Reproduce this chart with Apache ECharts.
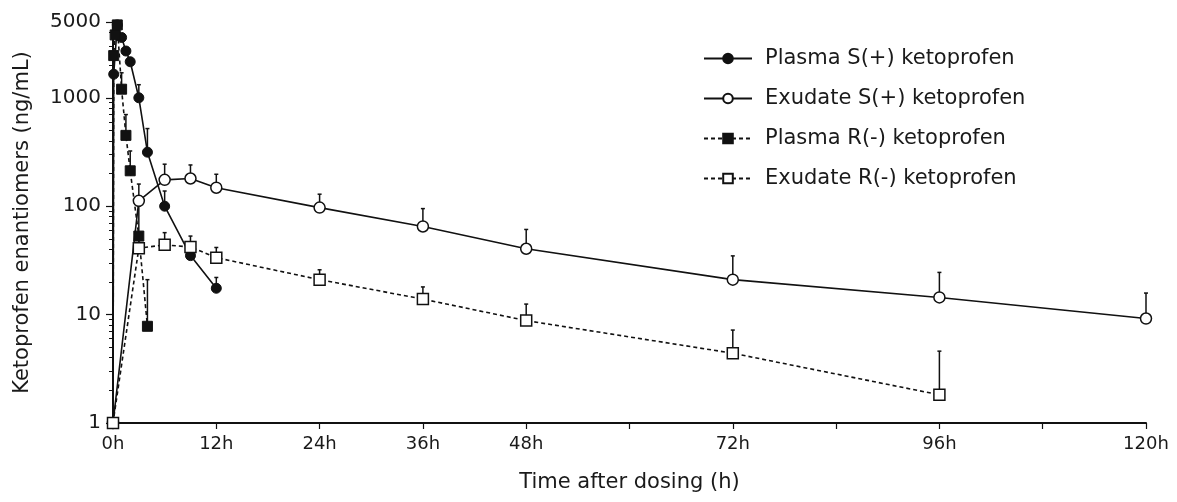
<!DOCTYPE html>
<html>
<head>
<meta charset="utf-8">
<script src="https://cdn.jsdelivr.net/npm/echarts@6/dist/echarts.min.js"></script>
<style>
html,body{margin:0;padding:0;background:#fff;}
#chart{width:1177px;height:502px;}
</style>
</head>
<body>
<div id="chart"></div>
<script>
// ---- data (time in hours, concentration in ng/mL) ----
const plasmaS_t   = [0, 0.083, 0.5, 1, 1.5, 2, 3, 4, 6, 9, 12];
const plasmaS_v   = [1, 1650, 4700, 3600, 2700, 2150, 1000, 315, 100, 35, 17.5];
const plasmaS_err = [null, null, null, null, null, null, 1320, 520, 138, 45, 22];

const exudateS_t   = [0, 3, 6, 9, 12, 24, 36, 48, 72, 96, 120];
const exudateS_v   = [1, 112, 175, 180, 148, 97, 65, 40.5, 21, 14.4, 9.2];
const exudateS_err = [null, 160, 244, 240, 197, 129, 95, 61, 34.8, 24.5, 15.8];

const plasmaR_t   = [0, 0.083, 0.25, 0.5, 1, 1.5, 2, 3, 4];
const plasmaR_v   = [1, 2450, 3800, 4700, 1200, 450, 212, 53, 7.8];
const plasmaR_err = [null, null, null, null, 1700, 700, 323, 100, 21];

const exudateR_t   = [0, 3, 6, 9, 12, 24, 36, 48, 72, 96];
const exudateR_v   = [1, 41, 44, 42, 33.5, 21, 13.9, 8.8, 4.4, 1.82];
const exudateR_err = [null, 55, 57, 53, 41.6, 25.9, 18, 12.5, 7.2, 4.6];

const seriesNames = ['Plasma S(+) ketoprofen', 'Exudate S(+) ketoprofen', 'Plasma R(-) ketoprofen', 'Exudate R(-) ketoprofen'];
const xLabelValues = [0, 12, 24, 36, 48, 72, 96, 120];
const xTickValues  = [0, 12, 24, 36, 48, 60, 72, 84, 96, 108, 120];
const yLabelValues = [1, 10, 100, 1000, 5000];
const yMinorValues = [2,3,4,5,6,7,8,9,20,30,40,50,60,70,80,90,200,300,400,500,600,700,800,900,2000,3000,4000];

// ---- helpers ----
function pts(t, v) { return t.map((x, i) => [x, v[i]]); }
function errPts(t, v, e) {
  const out = [];
  t.forEach((x, i) => { if (e[i] != null) out.push([x, v[i], e[i]]); });
  return out;
}
function errSeries(data) {
  return {
    type: 'custom',
    z: 1,
    silent: true,
    encode: { x: 0, y: [1, 2] },
    data: data,
    renderItem: function (params, api) {
      const p0 = api.coord([api.value(0), api.value(1)]);
      const p1 = api.coord([api.value(0), api.value(2)]);
      const style = { stroke: '#111', lineWidth: 1.5 };
      return {
        type: 'group',
        children: [
          { type: 'line', shape: { x1: p0[0], y1: p0[1], x2: p1[0], y2: p1[1] }, style: style },
          { type: 'line', shape: { x1: p1[0] - 2, y1: p1[1], x2: p1[0] + 2, y2: p1[1] }, style: style }
        ]
      };
    }
  };
}
const FONT = 'DejaVu Sans, Liberation Sans, Arial, sans-serif';
const black = '#111';
const textColor = '#1a1a1a';

const lineBase = {
  type: 'line',
  z: 3,
  showSymbol: true,
  symbolSize: 10,
  animation: false,
  emphasis: { disabled: true }
};

const option = {
  animation: false,
  backgroundColor: '#fff',
  textStyle: { fontFamily: FONT },
  grid: { left: 113, right: 31, top: 22, bottom: 79, containLabel: false },
  legend: {
    data: seriesNames,
    orient: 'vertical',
    left: 698,
    top: 42,
    itemWidth: 48,
    itemHeight: 12,
    itemGap: 17,
    textStyle: { fontSize: 21, lineHeight: 23, color: textColor, fontFamily: FONT, padding: [0, 0, 0, 8] },
    selectedMode: false
  },
  xAxis: {
    type: 'value',
    min: 0,
    max: 120,
    name: 'Time after dosing (h)',
    nameLocation: 'middle',
    nameGap: 49,
    nameTextStyle: { fontSize: 21, color: textColor, fontFamily: FONT },
    axisLine: { show: true, onZero: false, lineStyle: { color: black, width: 2 } },
    axisTick: { show: true, customValues: xTickValues, length: 6, lineStyle: { color: black, width: 1.2 } },
    axisLabel: { customValues: xLabelValues, formatter: v => v + 'h', fontSize: 18, color: textColor, margin: 12, fontFamily: FONT },
    splitLine: { show: false }
  },
  yAxis: [
    {
      type: 'log',
      logBase: 10,
      min: 1,
      max: 5000,
      name: 'Ketoprofen enantiomers (ng/mL)',
      nameLocation: 'middle',
      nameGap: 80,
      nameTextStyle: { fontSize: 21, color: textColor, fontFamily: FONT },
      axisLine: { show: true, onZero: false, lineStyle: { color: black, width: 2 } },
      axisTick: { show: true, customValues: yLabelValues, length: 7, lineStyle: { color: black, width: 1.2 } },
      axisLabel: { customValues: yLabelValues, formatter: v => String(Math.round(v)), fontSize: 20, color: textColor, margin: 12, fontFamily: FONT },
      splitLine: { show: false }
    },
    {
      type: 'log',
      logBase: 10,
      min: 1,
      max: 5000,
      position: 'left',
      axisLine: { show: false },
      axisTick: { show: true, customValues: yMinorValues, length: 4, lineStyle: { color: black, width: 1 } },
      axisLabel: { show: false },
      splitLine: { show: false }
    }
  ],
  series: [
    errSeries(errPts(plasmaS_t, plasmaS_v, plasmaS_err)),
    errSeries(errPts(exudateS_t, exudateS_v, exudateS_err)),
    errSeries(errPts(plasmaR_t, plasmaR_v, plasmaR_err)),
    errSeries(errPts(exudateR_t, exudateR_v, exudateR_err)),
    Object.assign({}, lineBase, {
      name: seriesNames[0],
      data: pts(plasmaS_t, plasmaS_v),
      symbol: 'circle',
      lineStyle: { color: black, width: 1.6 },
      itemStyle: { color: black, borderColor: black, borderWidth: 1 }
    }),
    Object.assign({}, lineBase, {
      name: seriesNames[1],
      data: pts(exudateS_t, exudateS_v),
      symbol: 'circle',
      symbolSize: 11,
      lineStyle: { color: black, width: 1.6 },
      itemStyle: { color: '#fff', borderColor: black, borderWidth: 1.5 }
    }),
    Object.assign({}, lineBase, {
      name: seriesNames[2],
      data: pts(plasmaR_t, plasmaR_v),
      symbol: 'rect',
      lineStyle: { color: black, width: 1.6, type: [4, 3] },
      itemStyle: { color: black, borderColor: black, borderWidth: 1 }
    }),
    Object.assign({}, lineBase, {
      name: seriesNames[3],
      data: pts(exudateR_t, exudateR_v),
      symbol: 'rect',
      symbolSize: 11,
      lineStyle: { color: black, width: 1.6, type: [4, 3] },
      itemStyle: { color: '#fff', borderColor: black, borderWidth: 1.5 }
    })
  ]
};

const chart = echarts.init(document.getElementById('chart'), null, { renderer: 'canvas' });
chart.setOption(option);
</script>
</body>
</html>
